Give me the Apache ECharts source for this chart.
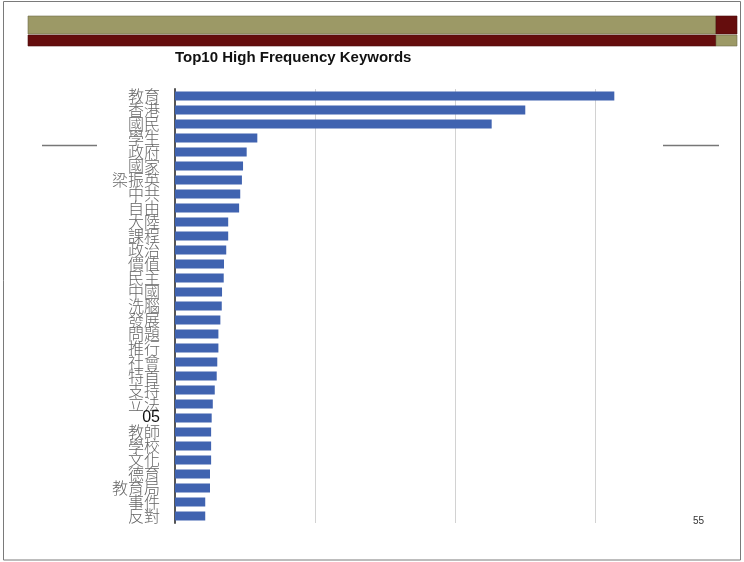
<!DOCTYPE html>
<html>
<head>
<meta charset="utf-8">
<script src="https://cdn.jsdelivr.net/npm/echarts@6/dist/echarts.min.js"></script>
<style>
  html, body { margin: 0; padding: 0; background: #fff; }
  #chart { width: 744px; height: 562px; }
</style>
</head>
<body>
<div id="chart"></div>
<script>
// Keywords, ordered from most to least frequent
const keywords = [
  '教育', '香港', '國民', '學生', '政府', '國家', '梁振英', '中共', '自由', '大陸',
  '課程', '政治', '價值', '民主', '中國', '洗腦', '發展', '問題', '推行', '社會',
  '特首', '支持', '立法', '05', '教師', '學校', '文化', '德育', '教育局', '事件', '反對'
];

// Occurrence counts for each keyword
const counts = [
  1569, 1251, 1131, 294, 256, 243, 239, 233, 229, 190,
  190, 183, 175, 174, 168, 167, 162, 155, 155, 151,
  149, 142, 135, 131, 129, 129, 129, 125, 125, 108, 108
];

const titleText = 'Top10 High Frequency Keywords';
const pageNumber = '55';

const chart = echarts.init(document.getElementById('chart'), null, { renderer: 'canvas' });

const option = {
  backgroundColor: '#ffffff',
  animation: false,
  title: {
    text: titleText,
    left: 170,
    top: 45,
    textStyle: {
      fontFamily: 'Liberation Sans, Arial, sans-serif',
      fontSize: 15,
      fontWeight: 'bold',
      color: '#111'
    }
  },
  grid: {
    left: 175,
    right: 121,
    top: 89,
    bottom: 39,
    containLabel: false
  },
  xAxis: {
    type: 'value',
    min: 0,
    max: 1600,
    interval: 500,
    axisLine: { show: false },
    axisTick: { show: false },
    axisLabel: { show: false },
    splitLine: {
      show: true,
      showMinLine: false,
      showMaxLine: false,
      lineStyle: { color: '#d2d2d2', width: 1 }
    }
  },
  yAxis: {
    type: 'category',
    inverse: true,
    data: keywords,
    axisLine: { show: true, lineStyle: { color: '#555', width: 2 } },
    axisTick: { show: false },
    axisLabel: {
      interval: 0,
      hideOverlap: false,
      margin: 15,
      fontFamily: 'Noto Sans CJK TC, sans-serif',
      fontSize: 16,
      fontWeight: 300,
      color: '#666',
      lineHeight: 14,
      formatter: function (v) {
        return v === '05' ? '{b|' + v + '}' : v;
      },
      rich: {
        b: {
          fontFamily: 'Liberation Sans, Arial, sans-serif',
          fontSize: 16,
          fontWeight: 'normal',
          color: '#111'
        }
      }
    }
  },
  series: [{
    type: 'bar',
    data: counts,
    barWidth: 9,
    itemStyle: { color: '#4063b0' },
    silent: true
  }],
  graphic: [
    // slide frame
    { type: 'rect', shape: { x: 3.5, y: 1.5, width: 737, height: 558.5 },
      style: { fill: 'none', stroke: '#7a7a7a', lineWidth: 1 }, z: 100 },
    // header band
    { type: 'rect', shape: { x: 28, y: 16, width: 688, height: 18 },
      style: { fill: '#9c9966', stroke: '#6e6b4a', lineWidth: 0.6 } },
    { type: 'rect', shape: { x: 716, y: 16, width: 21, height: 18 },
      style: { fill: '#650d0d', stroke: '#4a0a0a', lineWidth: 0.6 } },
    { type: 'rect', shape: { x: 28, y: 35, width: 688, height: 11 },
      style: { fill: '#650d0d', stroke: '#4a0a0a', lineWidth: 0.6 } },
    { type: 'rect', shape: { x: 716, y: 35, width: 21, height: 11 },
      style: { fill: '#9c9966', stroke: '#6e6b4a', lineWidth: 0.6 } },
    // side rules
    { type: 'line', shape: { x1: 42, y1: 145.5, x2: 97, y2: 145.5 },
      style: { stroke: '#777', lineWidth: 1.5 } },
    { type: 'line', shape: { x1: 663, y1: 145.5, x2: 719, y2: 145.5 },
      style: { stroke: '#777', lineWidth: 1.5 } },
    // page number
    { type: 'text', left: 693, top: 516,
      style: { text: pageNumber, font: '10px Liberation Sans, Arial, sans-serif', fill: '#333' } }
  ]
};

chart.setOption(option);
</script>
</body>
</html>
